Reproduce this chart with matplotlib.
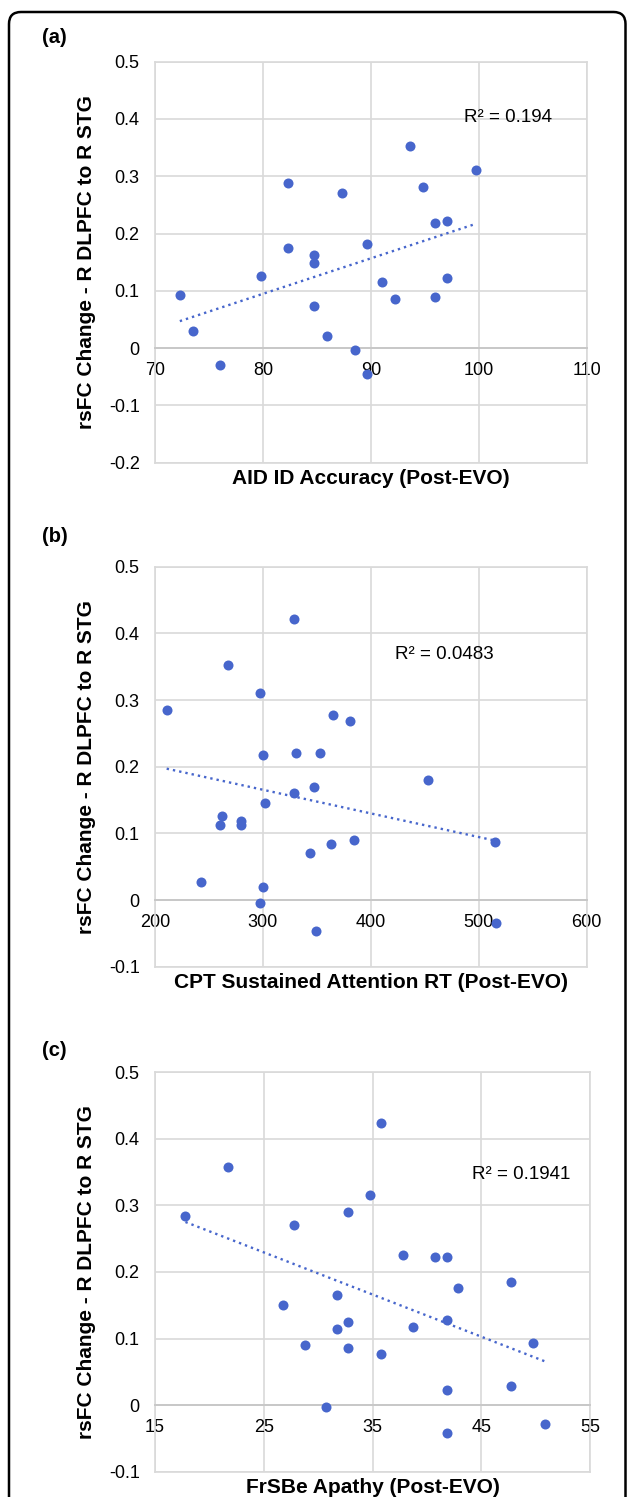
import numpy as np
import matplotlib.pyplot as plt
from matplotlib.patches import FancyBboxPatch
from matplotlib.transforms import IdentityTransform

plt.rcParams['font.family'] = ['Liberation Sans', 'DejaVu Sans']

# (a) AID ID Accuracy
a_x = [72.3, 73.5, 76.0, 79.8, 82.3, 82.3, 84.7, 84.7, 84.7, 85.9, 87.3, 88.5,
       89.6, 89.6, 91.0, 92.2, 93.6, 94.8, 95.9, 95.9, 97.1, 97.1, 99.7]
a_y = [0.092, 0.030, -0.030, 0.126, 0.289, 0.174, 0.163, 0.148, 0.074, 0.022, 0.270, -0.004,
       0.181, -0.045, 0.115, 0.085, 0.352, 0.281, 0.219, 0.089, 0.222, 0.122, 0.311]

# (b) CPT sustained attention RT
b_x = [210.8, 242.4, 260.3, 262.2, 268.0, 279.8, 279.8, 297.7, 297.7, 299.9, 299.9, 301.8, 329.0,
       329.0, 331.1, 343.2, 346.9, 349.1, 352.8, 362.7, 364.6, 380.3, 384.3, 453.3, 514.6, 515.5]
b_y = [0.285, 0.027, 0.113, 0.126, 0.352, 0.119, 0.113, 0.310, -0.005, 0.218, 0.020, 0.145, 0.422,
       0.161, 0.221, 0.071, 0.170, -0.046, 0.221, 0.084, 0.278, 0.269, 0.090, 0.180, 0.087, -0.034]

# (c) FrSBe Apathy
c_x = [17.8, 21.7, 26.8, 27.8, 28.75, 30.7, 31.7, 31.7, 32.7, 32.7, 32.7, 34.8, 35.8,
       35.8, 37.75, 38.7, 40.7, 41.8, 41.8, 41.8, 41.8, 42.8, 47.7, 47.7, 49.7, 50.8]
c_y = [0.284, 0.357, 0.150, 0.271, 0.090, -0.003, 0.166, 0.115, 0.290, 0.125, 0.086, 0.316, 0.424,
       0.077, 0.226, 0.118, 0.223, 0.223, 0.128, 0.022, -0.042, 0.176, 0.185, 0.029, 0.093, -0.029]

ylabel = 'rsFC Change - R DLPFC to R STG'

panels = [
    dict(tag='(a)', x=a_x, y=a_y, xlim=(70, 110), xticks=[70, 80, 90, 100, 110],
         ylim=(-0.2, 0.5), xlabel='AID ID Accuracy (Post-EVO)', r2='R² = 0.194',
         r2pos=(98.6, 0.402), box=(155, 586.7, 61.7, 462.7), tagpos=(42, 37.5)),
    dict(tag='(b)', x=b_x, y=b_y, xlim=(200, 600), xticks=[200, 300, 400, 500, 600],
         ylim=(-0.1, 0.5), xlabel='CPT Sustained Attention RT (Post-EVO)', r2='R² = 0.0483',
         r2pos=(422.4, 0.368), box=(155, 586.7, 566.7, 966.7), tagpos=(42, 536)),
    dict(tag='(c)', x=c_x, y=c_y, xlim=(15, 55), xticks=[15, 25, 35, 45, 55],
         ylim=(-0.1, 0.5), xlabel='FrSBe Apathy (Post-EVO)', r2='R² = 0.1941',
         r2pos=(44.1, 0.346), box=(155, 590.3, 1072.3, 1471.7), tagpos=(42, 1050)),
]

W, H = 627, 1497
fig = plt.figure(figsize=(W / 100, H / 100), dpi=100)

blue = '#4766cc'
grid = '#d9d9d9'

for p in panels:
    l, r, t, b = p['box']
    ax = fig.add_axes([l / W, 1 - b / H, (r - l) / W, (b - t) / H])
    x = np.array(p['x'])
    y = np.array(p['y'])
    ax.scatter(x, y, s=52, color=blue, zorder=4, linewidths=0)

    coefs = np.polyfit(x, y, 1)
    xs = np.array([x.min(), x.max()])
    ax.plot(xs, np.polyval(coefs, xs), color=blue, lw=1.7, linestyle=(0, (1, 1.7)), zorder=3)

    ax.set_xlim(*p['xlim'])
    ax.set_ylim(*p['ylim'])
    ax.set_xticks(p['xticks'])
    ax.set_xticklabels([str(v) for v in p['xticks']])
    yt = np.round(np.arange(p['ylim'][0], p['ylim'][1] + 0.001, 0.1), 1)
    ax.set_yticks(yt)
    ax.set_yticklabels(['0' if v == 0 else f'{v:.1f}' for v in yt])
    ax.grid(True, color=grid, lw=1.2)
    ax.set_axisbelow(True)
    ax.tick_params(length=0, labelsize=13, labelcolor='black')
    ax.tick_params(axis='y', pad=11)
    ax.tick_params(axis='x', pad=10)
    for s in ['top', 'left', 'right']:
        ax.spines[s].set_color(grid)
        ax.spines[s].set_linewidth(1.2)
    ax.spines['bottom'].set_position(('data', 0))
    ax.spines['bottom'].set_color('#c8c8c8')
    ax.spines['bottom'].set_linewidth(1.4)
    ax.axhline(p['ylim'][0], color=grid, lw=1.2, clip_on=False, zorder=1)

    ax.text(*p['r2pos'], p['r2'], fontsize=13.5, ha='left', va='center')
    ax.text((87 - l) / (r - l), 0.5, ylabel, transform=ax.transAxes, rotation=90,
            ha='center', va='center', fontsize=15, fontweight='bold')
    ax.text(0.5, -15.5 / (b - t), p['xlabel'], transform=ax.transAxes,
            ha='center', va='center', fontsize=15, fontweight='bold')
    fig.text(p['tagpos'][0] / W, 1 - p['tagpos'][1] / H, p['tag'], ha='left', va='center',
             fontsize=14.5, fontweight='bold')

frame = FancyBboxPatch((9, -40), 616.5, H - 12 + 40, boxstyle='round,pad=0,rounding_size=12',
                       transform=IdentityTransform(), fill=False, lw=1.8, edgecolor='black')
fig.add_artist(frame)

fig.savefig('out.png', dpi=100)
